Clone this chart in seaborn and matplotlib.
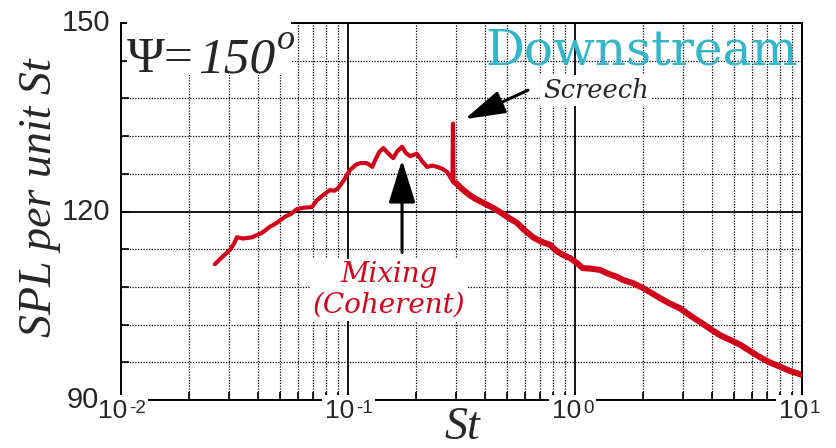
import numpy as np
import pandas as pd
import matplotlib
matplotlib.use("Agg")
import matplotlib.pyplot as plt
import seaborn as sns
from matplotlib.ticker import FixedLocator, LogLocator, MultipleLocator, NullFormatter
from matplotlib.patches import Rectangle

# Sound pressure level spectrum, downstream observer at 150 degrees
st = [0.0259, 0.0280, 0.0302, 0.0316, 0.0324, 0.0345, 0.0378, 0.0400, 0.0418, 0.0450,
      0.0486, 0.0530, 0.0560, 0.0596, 0.0640, 0.0693, 0.0730, 0.0790, 0.0833, 0.0870,
      0.0904, 0.0960, 0.1020, 0.1080, 0.1130, 0.1210, 0.1280, 0.1310, 0.1370, 0.1430,
      0.1500, 0.1580, 0.1650, 0.1730, 0.1800, 0.1880, 0.2010, 0.2120, 0.2230, 0.2350,
      0.2470, 0.2600, 0.2730, 0.2830, 0.2885, 0.2900, 0.2915, 0.3000, 0.3110, 0.3250,
      0.3440, 0.3650, 0.3930, 0.4300, 0.4680, 0.5100, 0.5550, 0.6000, 0.6530, 0.7100,
      0.7760, 0.8300, 0.8850, 0.9500, 1.0200, 1.0800, 1.1800, 1.2900, 1.4000, 1.5300,
      1.6300, 1.8000, 2.0000, 2.1800, 2.3700, 2.6000, 2.9000, 3.2000, 3.5600, 3.9500,
      4.3600, 4.8000, 5.3400, 5.9000, 6.5400, 7.2000, 8.0000, 8.9000, 10.000]
spl = [111.6, 112.8, 113.9, 115.0, 115.9, 115.7, 115.9, 116.3, 116.6, 117.5,
       118.2, 119.2, 119.6, 120.4, 120.6, 120.7, 121.8, 122.8, 123.4, 123.3,
       123.7, 125.0, 126.6, 127.4, 127.7, 127.7, 127.1, 128.0, 129.4, 130.1,
       129.3, 128.5, 129.6, 130.3, 129.3, 128.8, 129.2, 128.0, 127.1, 127.3,
       127.1, 126.8, 126.3, 125.4, 124.9, 134.0, 124.6, 124.5, 123.9, 123.3,
       122.6, 122.0, 121.4, 120.7, 119.9, 119.0, 118.2, 117.0, 115.9, 115.2,
       114.7, 113.7, 113.1, 112.6, 111.8, 111.0, 110.9, 110.7, 110.1, 109.6,
       109.1, 108.6, 107.8, 107.0, 106.2, 105.4, 104.6, 103.5, 102.4, 101.3,
       100.3, 99.6, 98.8, 97.8, 96.8, 96.0, 95.3, 94.6, 94.0]

xtick_values = [0.01, 0.1, 1, 10]
xtick_bases = ["10", "10", "10", "10"]
xtick_exps = ["-2", "-1", "0", "1"]
ytick_values = [90, 120, 150]
ytick_labels = ["90", "120", "150"]

# annotation anchors (St, SPL)
mixing_tip = (0.173, 128.2)
mixing_tail = (0.173, 113.5)
mixing_text_pos = (0.152, 107.5)
screech_tip = (0.327, 134.7)
screech_tail = (0.621, 139.3)

RED = "#d0021b"
TEAL = "#35b5c9"

sns.set_style("white")
plt.rcParams["font.family"] = ["Liberation Sans", "DejaVu Sans"]

fig = plt.figure(figsize=(8.36, 4.48), dpi=100)
ax = fig.add_axes([121 / 836, 48 / 448, 681 / 836, 377 / 448])
ax.set_xscale("log")

df = pd.DataFrame({"St": st, "SPL": spl})
sns.lineplot(data=df, x="St", y="SPL", ax=ax, color=RED, lw=3.0,
             estimator=None, sort=False, zorder=3)
# broadband decay beyond the screech tone is drawn as a wider, noisier band
sns.lineplot(data=df[df["St"] >= 0.3], x="St", y="SPL", ax=ax, color=RED, lw=4.4,
             estimator=None, sort=False, zorder=3)

ax.set_xlim(0.01, 10)
ax.set_ylim(90, 150)
ax.set_xlabel("")
ax.set_ylabel("")

ax.xaxis.set_major_locator(FixedLocator(xtick_values))
ax.xaxis.set_minor_locator(LogLocator(base=10, subs=np.arange(2, 10)))
ax.xaxis.set_minor_formatter(NullFormatter())
ax.yaxis.set_major_locator(FixedLocator(ytick_values))
ax.yaxis.set_minor_locator(MultipleLocator(6))
ax.tick_params(which="both", direction="in", length=6, width=1.2, colors="black",
               labelbottom=False, labelleft=False, bottom=True, left=True,
               top=False, right=False)

ax.grid(which="major", color="black", lw=1.3, ls="-")
ax.grid(which="minor", color="black", lw=0.9, ls=(0, (1, 1.2)))
ax.set_axisbelow(True)
for s in ax.spines.values():
    s.set_visible(True)
    s.set_color("black")
    s.set_linewidth(1.4)

# decade labels sitting on the frame with a white backing
for v, base, ex in zip(xtick_values, xtick_bases, xtick_exps):
    ax.annotate(base, xy=(v, 0), xycoords=("data", "axes fraction"),
                xytext=(4.3, 1.0), textcoords="offset points",
                ha="right", va="top", fontsize=19, zorder=8,
                annotation_clip=False,
                bbox=dict(boxstyle="square,pad=0.12", fc="white", ec="none"))
    ax.annotate(ex, xy=(v, 0), xycoords=("data", "axes fraction"),
                xytext=(5.6, 0.0), textcoords="offset points",
                ha="left", va="top", fontsize=13.5, zorder=9,
                annotation_clip=False,
                bbox=dict(boxstyle="square,pad=0.12", fc="white", ec="none"))
for v, lab in zip(ytick_values, ytick_labels):
    off = -16 if v == 90 else -8
    ax.annotate(lab, xy=(0, v), xycoords=("axes fraction", "data"),
                xytext=(off, 0), textcoords="offset points",
                ha="right", va="center", fontsize=21, zorder=10,
                annotation_clip=False)

# angle label in the upper-left corner
ax.add_patch(Rectangle((0.009, 0.862), 0.24, 0.16, transform=ax.transAxes,
                       fc="white", ec="none", zorder=5, clip_on=False))
ax.text(0.0088, 0.870, "\u03a8=", transform=ax.transAxes,
        fontfamily="Liberation Serif", fontsize=37,
        ha="left", va="baseline", zorder=6)
ax.text(0.114, 0.870, "150", transform=ax.transAxes,
        fontfamily="Liberation Serif", style="italic", fontsize=37,
        ha="left", va="baseline", zorder=6)
ax.text(0.2290, 0.930, "o", transform=ax.transAxes,
        fontfamily="Liberation Serif", style="italic", fontsize=26,
        ha="left", va="baseline", zorder=6)

ax.text(0.5345, 0.8886, "Downstream", transform=ax.transAxes,
        fontfamily="DejaVu Serif", fontsize=35, color=TEAL,
        ha="left", va="baseline", zorder=6)

ax.text(0.6197, 0.801, "Screech", transform=ax.transAxes,
        fontfamily="DejaVu Serif", style="italic", fontsize=18.5,
        ha="left", va="baseline", zorder=6,
        bbox=dict(boxstyle="square,pad=0.1", fc="white", ec="none"))

ax.text(mixing_text_pos[0], mixing_text_pos[1], "Mixing\n(Coherent)",
        ha="center", va="center", color=RED, fontfamily="DejaVu Serif",
        style="italic", fontsize=20, linespacing=1.15, zorder=6,
        bbox=dict(boxstyle="square,pad=0.1", fc="white", ec="none"))

ax.annotate("", xy=mixing_tip, xytext=mixing_tail,
            arrowprops=dict(arrowstyle="-|>,head_length=2.66,head_width=0.83",
                            mutation_scale=10, color="black", lw=2.2,
                            shrinkA=0, shrinkB=0), zorder=7)
ax.annotate("", xy=screech_tip, xytext=screech_tail,
            arrowprops=dict(arrowstyle="-|>,head_length=2.48,head_width=0.72",
                            mutation_scale=10, color="black", lw=2.2,
                            shrinkA=0, shrinkB=0), zorder=7)

fig.text(40 / 836, 1 - 198 / 448, "SPL per unit St", rotation=90,
         fontfamily="Liberation Serif", style="italic", fontsize=33,
         ha="center", va="center")
fig.text(462 / 836, 1 - 428 / 448, "St",
         fontfamily="Liberation Serif", style="italic", fontsize=33,
         ha="center", va="center")

fig.savefig("out.png", dpi=100)
